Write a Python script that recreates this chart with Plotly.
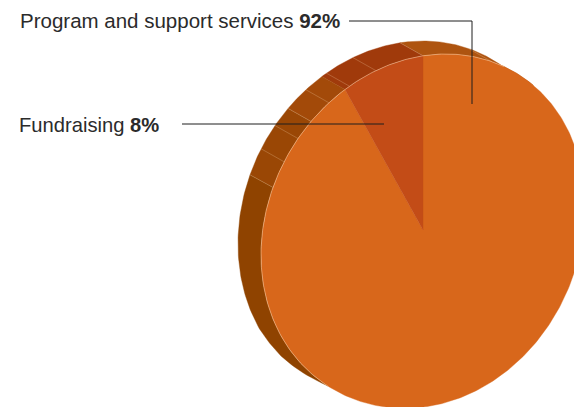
import numpy as np
import plotly.graph_objects as go

# data
labels = ["Program and support services", "Fundraising"]
values = [92, 8]
slice_colors = ["#D8671B", "#C34C17"]
facet_angles = [65, 90, 106.9, 117, 125.5, 133.7, 140.5, 149, 157.8]

# projection of the tilted disc
CX, CY, RX, RY, PHASE = 423, 230, 162, 176, 98.2
BULGE = 5
DX = -23
START = 90.0
WALL_FROM, WALL_TO = 47.0, 234.0


def px(t):
    t = np.radians(t)
    return CX + RX * np.cos(t)


def py(t):
    r = np.radians(t)
    return CY + RY * np.cos(r + np.radians(PHASE)) + BULGE * np.clip(np.cos(r + np.radians(50)), 0, None) ** 2


def taper(t):
    return np.interp(t, [210, 222, 228, 232, WALL_TO], [1, 0.88, 0.68, 0.4, 0])


def wall_dx(t):
    return DX * taper(t)


def wall_dy(t):
    return np.interp(t, [150, 222], [-13, -9]) * taper(t)


fig = go.Figure()


def poly(x, y, color):
    fig.add_trace(go.Scatter(x=x, y=y, mode="lines", fill="toself", fillcolor=color,
                             line=dict(width=0.4, color=color), hoverinfo="skip", showlegend=False))


def wall(t1, t2, color):
    t = np.linspace(t1, t2, 80)
    x = np.r_[px(t) + wall_dx(t), px(t[::-1])]
    y = np.r_[py(t) + wall_dy(t), py(t[::-1])]
    poly(np.r_[x, x[0]], np.r_[y, y[0]], color)


share = 360.0 * values[1] / sum(values)
wall(WALL_FROM, START, "#AE5410")
wall(START, START + share, "#A03A0B")
wall(START + share, 133.7, "#A34A09")
wall(133.7, 157.8, "#9A4705")
wall(157.8, WALL_TO, "#8F4300")

for a in facet_angles:
    fig.add_trace(go.Scatter(x=[px(a), px(a) + wall_dx(a)], y=[py(a), py(a) + wall_dy(a)], mode="lines",
                             line=dict(width=0.8, color="rgba(255,225,190,0.3)"),
                             hoverinfo="skip", showlegend=False))

# top face: large slice then small slice
t = np.linspace(START + share, START + 360, 400)
poly(np.r_[CX, px(t), CX], np.r_[CY, py(t), CY], slice_colors[0])
t = np.linspace(START, START + share, 60)
poly(np.r_[CX, px(t), CX], np.r_[CY, py(t), CY], slice_colors[1])

# pale rim on the visible back edge
t = np.linspace(60, WALL_TO, 200)
fig.add_trace(go.Scatter(x=px(t), y=py(t), mode="lines",
                         line=dict(width=0.8, color="rgba(255,225,190,0.55)"),
                         hoverinfo="skip", showlegend=False))

lc = "#1F1F1F"
shapes = [
    dict(type="path", path="M349,21 L472,21 L472,104", line=dict(color=lc, width=1)),
    dict(type="line", x0=182, y0=124, x1=384, y1=124, line=dict(color=lc, width=1)),
]
for s in shapes:
    s.update(xref="x", yref="y")

annotations = [
    dict(x=19.5, y=20.5, text=f"{labels[0]} <b>{values[0]}%</b>",
         font=dict(family="Liberation Sans", size=20.5, color="#2B2B2B")),
    dict(x=18.5, y=125, text=f"{labels[1]} <b>{values[1]}%</b>",
         font=dict(family="Liberation Sans", size=20.2, color="#2B2B2B")),
]
for a in annotations:
    a.update(xref="x", yref="y", xanchor="left", yanchor="middle", showarrow=False,
             borderpad=0, borderwidth=0)

fig.update_layout(
    width=574, height=407, autosize=False,
    margin=dict(l=0, r=0, t=0, b=0, pad=0),
    paper_bgcolor="white", plot_bgcolor="white",
    xaxis=dict(range=[0, 574], visible=False, fixedrange=True),
    yaxis=dict(range=[407, 0], visible=False, fixedrange=True),
    shapes=shapes, annotations=annotations, showlegend=False,
)
fig.write_html("out.html", config=dict(displayModeBar=False),
               post_script="document.body.style.margin='0';document.body.style.overflow='hidden';")
